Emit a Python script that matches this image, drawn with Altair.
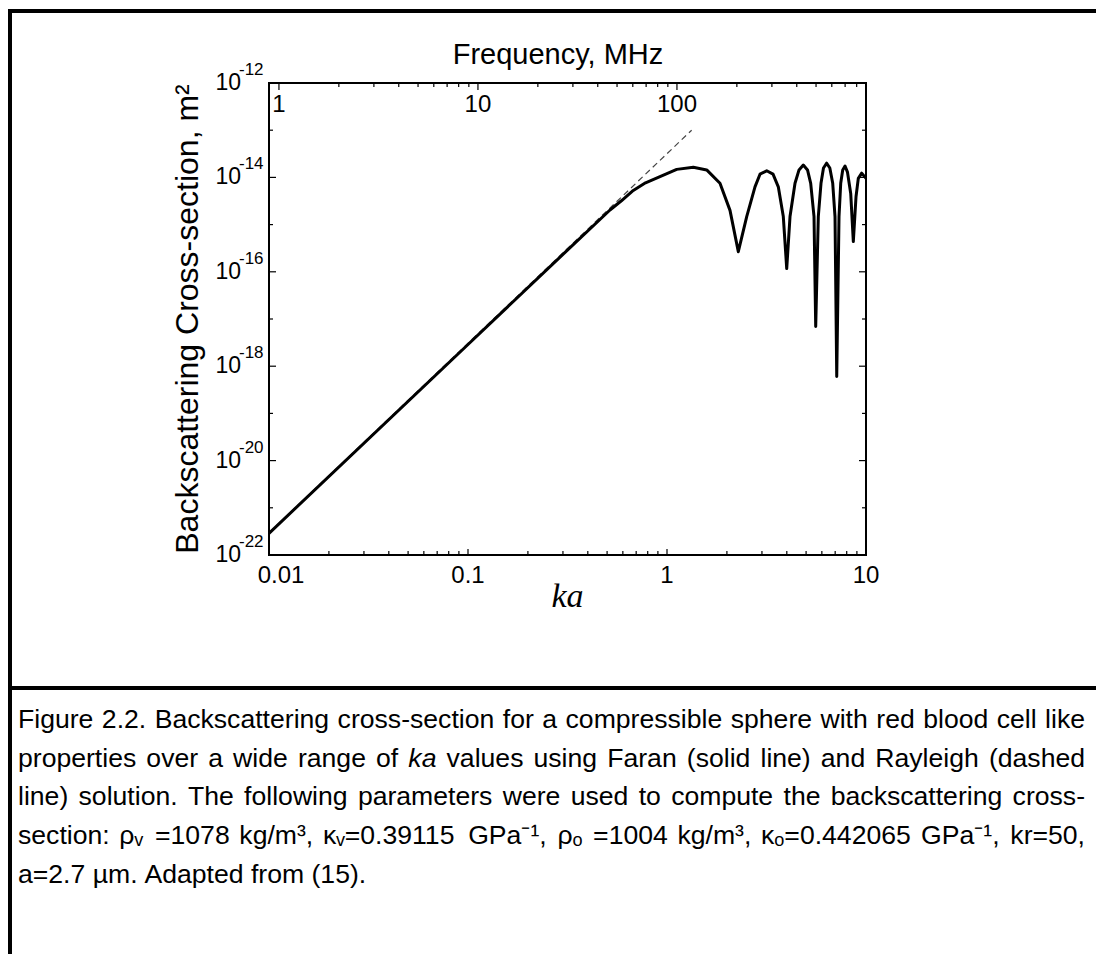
import altair as alt
import pandas as pd

# ---------------- data ----------------
ka_faran = [0.01, 0.1, 0.3, 0.517, 0.59, 0.677, 0.78, 0.922, 1.119, 1.356, 1.583, 1.846, 2.073,
            2.282, 2.515, 2.768, 2.933, 3.170, 3.41, 3.625, 3.841, 3.996, 4.151, 4.398,
            4.607, 4.841, 5.082, 5.274, 5.480, 5.588, 5.759, 5.941, 6.114, 6.346, 6.58,
            6.804, 6.987, 7.127, 7.318, 7.464, 7.638, 7.845, 8.072, 8.379, 8.636, 8.909,
            9.148, 9.515, 10.0]
sigma_faran = [2.88e-22, 2.88e-18, 2.34e-16, 2.04e-15, 3.2e-15, 5.3e-15, 7.7e-15, 1.04e-14, 1.48e-14, 1.64e-14, 1.44e-14, 7.5e-15, 2.0e-15,
               2.67e-16, 1.48e-15, 6.31e-15, 1.17e-14, 1.38e-14, 1.17e-14, 6.31e-15, 1.48e-15, 1.17e-16, 1.48e-15, 7.5e-15,
               1.44e-14, 1.83e-14, 1.44e-14, 7.5e-15, 1.48e-15, 6.92e-18, 1.48e-15, 7.5e-15, 1.58e-14, 2.0e-14, 1.58e-14,
               7.5e-15, 1.48e-15, 6.03e-19, 1.48e-15, 7.5e-15, 1.44e-14, 1.74e-14, 1.29e-14, 4.57e-15, 4.37e-16, 3.89e-15,
               9.55e-15, 1.23e-14, 9.55e-15]

ka_rayleigh = [0.01, 1.33]
sigma_rayleigh = [2.95e-22, 1.0e-13]

ka_major = [0.01, 0.1, 1, 10]
ka_labels = ["0.01", "0.1", "1", "10"]
ka_minor = [0.02, 0.03, 0.04, 0.05, 0.06, 0.07, 0.08, 0.09,
            0.2, 0.3, 0.4, 0.5, 0.6, 0.7, 0.8, 0.9,
            2, 3, 4, 5, 6, 7, 8, 9]

KA_PER_MHZ = 0.01122
freq_major = [1, 10, 100]
freq_labels = ["1", "10", "100"]
freq_minor = [2, 3, 4, 5, 6, 7, 8, 9, 20, 30, 40, 50, 60, 70, 80, 90,
              200, 300, 400, 500, 600, 700, 800]

sig_major_exp = [-22, -20, -18, -16, -14, -12]
sig_minor_exp = [-21, -19, -17, -15, -13]

# caption: list of lines, each a list of (word, style); last line is not justified
caption_lines = [
    "Figure 2.2. Backscattering cross-section for a compressible sphere with red blood cell like",
    "properties over a wide range of *ka values using Faran (solid line) and Rayleigh (dashed",
    "line) solution. The following parameters were used to compute the backscattering cross-",
    "section: \u03c1\u1d65 =1078 kg/m\u00b3, \u03ba\u1d65=0.39115 GPa\u207b\u00b9, \u03c1\u2092 =1004 kg/m\u00b3, \u03ba\u2092=0.442065 GPa\u207b\u00b9, kr=50,",
    "a=2.7 \u00b5m. Adapted from (15).",
]

# ---------------- layout ----------------
W, H = 597, 472
PAD_L, PAD_T = 269, 83
FONT = "Liberation Sans"

xs = alt.Scale(type="log", domain=[0.01, 10], nice=False)
ys = alt.Scale(type="log", domain=[1e-22, 1e-12], nice=False)
fs = alt.Scale(type="log", domain=[0.01 / KA_PER_MHZ, 10 / KA_PER_MHZ], nice=False)

X = alt.X("ka:Q", scale=xs, axis=None)
Y = alt.Y("sigma:Q", scale=ys, axis=None)
XF = alt.X("f:Q", scale=fs, axis=None)

df_f = pd.DataFrame({"ka": ka_faran, "sigma": sigma_faran})
df_r = pd.DataFrame({"ka": ka_rayleigh, "sigma": sigma_rayleigh})

rayleigh = alt.Chart(df_r).mark_line(color="#444444", strokeWidth=1.2, strokeDash=[6, 4]).encode(x=X, y=Y)
faran = alt.Chart(df_f).mark_line(color="black", strokeWidth=3, strokeJoin="round").encode(x=X, y=Y)


def xticks(vals, length):
    d = pd.DataFrame({"ka": vals})
    return alt.Chart(d).mark_rule(color="black", strokeWidth=1.2).encode(
        x=X, y=alt.value(H), y2=alt.value(H - length))


def yticks(exps, length):
    d = pd.DataFrame({"sigma": [10.0 ** e for e in exps]})
    left = alt.Chart(d).mark_rule(color="black", strokeWidth=1.2).encode(
        y=Y, x=alt.value(0), x2=alt.value(length))
    right = alt.Chart(d).mark_rule(color="black", strokeWidth=1.2).encode(
        y=Y, x=alt.value(W), x2=alt.value(W - length))
    return left + right


def fticks(vals, length):
    d = pd.DataFrame({"f": vals})
    return alt.Chart(d).mark_rule(color="black", strokeWidth=1.2).encode(
        x=XF, y=alt.value(0), y2=alt.value(length))


# bottom tick labels
df_xl = pd.DataFrame({"ka": ka_major, "lab": ka_labels})
xlab_first = alt.Chart(df_xl.iloc[:1]).mark_text(font=FONT, fontSize=24, baseline="alphabetic", dx=12).encode(
    x=X, y=alt.value(H + 28), text="lab:N")
xlab_rest = alt.Chart(df_xl.iloc[1:]).mark_text(font=FONT, fontSize=24, baseline="alphabetic").encode(
    x=X, y=alt.value(H + 28), text="lab:N")

# y tick labels (10 with superscript exponent)
df_yl = pd.DataFrame({"sigma": [10.0 ** e for e in sig_major_exp],
                      "base": ["10"] * len(sig_major_exp),
                      "sup": [str(e) for e in sig_major_exp]})
ylab_base = alt.Chart(df_yl).mark_text(font=FONT, fontSize=23, align="right", baseline="alphabetic", dy=7).encode(
    y=Y, x=alt.value(-28), text="base:N")
ylab_sup = alt.Chart(df_yl).mark_text(font=FONT, fontSize=17, align="left", baseline="alphabetic", dy=-8).encode(
    y=Y, x=alt.value(-30), text="sup:N")

# top tick labels (frequency)
df_fl = pd.DataFrame({"f": freq_major, "lab": freq_labels})
flab = alt.Chart(df_fl).mark_text(font=FONT, fontSize=24, baseline="alphabetic").encode(
    x=XF, y=alt.value(29), text="lab:N")

# titles
anchor = pd.DataFrame({"k": [0]})
ytitle = alt.Chart(anchor).mark_text(font=FONT, fontSize=32, angle=270, align="center", baseline="alphabetic",
                                     text="Backscattering Cross-section, m\u00b2").encode(
    x=alt.value(-71), y=alt.value(H / 2))
xtitle = alt.Chart(anchor).mark_text(font="Liberation Serif", fontStyle="italic", fontSize=34, align="center",
                                     baseline="alphabetic", text="ka").encode(
    x=alt.value(W / 2), y=alt.value(H + 52))
ftitle = alt.Chart(anchor).mark_text(font=FONT, fontSize=29, align="center", baseline="alphabetic",
                                     text="Frequency, MHz").encode(
    x=alt.value(289), y=alt.value(-19))

# figure frame
frame_top = alt.Chart(anchor).mark_rule(color="black", strokeWidth=4).encode(
    x=alt.value(-261), x2=alt.value(1096 - PAD_L + 5), y=alt.value(11 - PAD_T))
frame_left = alt.Chart(anchor).mark_rule(color="black", strokeWidth=4).encode(
    x=alt.value(10 - PAD_L), y=alt.value(9 - PAD_T), y2=alt.value(954 - PAD_T + 5))
frame_mid = alt.Chart(anchor).mark_rule(color="black", strokeWidth=4).encode(
    x=alt.value(-261), x2=alt.value(1096 - PAD_L + 5), y=alt.value(688 - PAD_T))

# ---------------- caption (justified, Arial metrics) ----------------
CAP_SIZE = 26.6
CAP_X = 18 - PAD_L
CAP_RIGHT = 1085 - PAD_L
CAP_Y0 = 728 - PAD_T
CAP_DY = 38.7

ARIAL = {" ": 278, "!": 278, "(": 333, ")": 333, ",": 278, "-": 333, ".": 278, "/": 278, ":": 278,
         "=": 584, "A": 667, "B": 667, "C": 722, "D": 722, "E": 667, "F": 611, "G": 778, "H": 722,
         "I": 278, "P": 667, "R": 722, "T": 611,
         "a": 556, "b": 556, "c": 500, "d": 556, "e": 556, "f": 278, "g": 556, "h": 556, "i": 222,
         "j": 222, "k": 500, "l": 222, "m": 833, "n": 556, "o": 556, "p": 556, "q": 556, "r": 333,
         "s": 500, "t": 278, "u": 556, "v": 500, "w": 722, "x": 500, "y": 500, "z": 500,
         "\u03c1": 578, "\u03ba": 500, "\u1d65": 400, "\u2092": 400, "\u00b3": 333, "\u00b9": 333,
         "\u207b": 380, "\u00b5": 556}


def tw(s, size):
    return sum(ARIAL.get(c, 556) for c in s) / 1000.0 * size


cap_layers = []
for i, line in enumerate(caption_lines):
    yy = CAP_Y0 + i * CAP_DY
    words = line.split(" ")
    widths = [tw(w.lstrip("*"), CAP_SIZE) for w in words]
    justify = i < len(caption_lines) - 1
    if justify:
        gap = (CAP_RIGHT - CAP_X - sum(widths)) / (len(words) - 1)
    else:
        gap = tw(" ", CAP_SIZE)
    px, pos = [], CAP_X
    for w_ in widths:
        px.append(pos)
        pos += w_ + gap
    d = pd.DataFrame({"w": [w.lstrip("*") for w in words], "px": px,
                      "it": [w.startswith("*") for w in words]})
    normal = d[~d["it"]]
    ital = d[d["it"]]
    cap_layers.append(alt.Chart(normal).mark_text(font=FONT, fontSize=CAP_SIZE, align="left",
                                                  baseline="alphabetic").encode(
        x=alt.X("px:Q", scale=None), y=alt.value(yy), text="w:N"))
    if len(ital):
        cap_layers.append(alt.Chart(ital).mark_text(font=FONT, fontSize=CAP_SIZE, fontStyle="italic", align="left",
                                                    baseline="alphabetic").encode(
            x=alt.X("px:Q", scale=None), y=alt.value(yy), text="w:N"))

ka_group = alt.layer(
    rayleigh, faran,
    xticks(ka_major, 6), xticks(ka_minor, 4),
    yticks(sig_major_exp, 7), yticks(sig_minor_exp, 4),
    xlab_first, xlab_rest, ylab_base, ylab_sup,
    ytitle, xtitle, ftitle,
    frame_top, frame_left, frame_mid,
)
cap_group = alt.layer(*cap_layers)
f_group = alt.layer(fticks(freq_major, 7), fticks(freq_minor, 4), flab)

chart = alt.layer(ka_group, f_group, cap_group).resolve_scale(x="independent").properties(
    width=W, height=H,
    autosize=alt.AutoSizeParams(type="none"),
    padding={"left": PAD_L, "top": PAD_T, "right": 1096 - PAD_L - W, "bottom": 954 - PAD_T - H},
    background="white",
).configure_view(stroke="black", strokeWidth=2)

chart.save("out.html", embed_options={"renderer": "svg", "actions": False})
